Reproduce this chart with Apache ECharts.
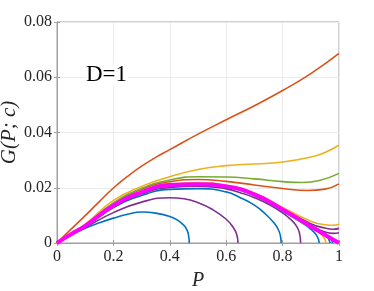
<!DOCTYPE html>
<html>
<head>
<meta charset="utf-8">
<script src="https://cdn.jsdelivr.net/npm/echarts@6/dist/echarts.min.js"></script>
<style>html,body{margin:0;padding:0;background:#fff}#c{width:374px;height:291px}</style>
</head>
<body>
<div id="c"></div>
<script>
// Axis ticks
const xTicks = [0, 0.2, 0.4, 0.6, 0.8, 1];
const yTicks = [0, 0.02, 0.04, 0.06, 0.08];
const annotation = 'D=1';

// Curves (P values and G values)
const pTopOrange = [0, 0.05, 0.1, 0.15, 0.2, 0.25, 0.3, 0.35, 0.4, 0.5, 0.6, 0.7, 0.8, 0.9, 1];
const gTopOrange = [0, 0.0050, 0.0099, 0.0150, 0.0199, 0.0241, 0.0278, 0.0310, 0.0338, 0.0394, 0.0446, 0.0497, 0.0552, 0.0613, 0.0686];

const pYellowTop = [0, 0.05, 0.1, 0.2, 0.3, 0.4, 0.5, 0.6, 0.7, 0.8, 0.9, 0.95, 1];
const gYellowTop = [0, 0.0035, 0.0068, 0.0154, 0.0205, 0.0240, 0.0266, 0.0280, 0.0286, 0.0293, 0.0311, 0.0328, 0.0354];

const pGreen = [0, 0.05, 0.1, 0.2, 0.3, 0.4, 0.5, 0.6, 0.7, 0.8, 0.87, 0.93, 1];
const gGreen = [0, 0.0033, 0.0065, 0.0145, 0.0198, 0.0228, 0.0240, 0.0239, 0.0232, 0.0222, 0.0219, 0.0226, 0.0252];

const pOrangeLow = [0, 0.05, 0.1, 0.2, 0.3, 0.4, 0.5, 0.6, 0.7, 0.8, 0.89, 0.95, 1];
const gOrangeLow = [0, 0.0032, 0.0064, 0.0142, 0.0195, 0.0222, 0.0230, 0.0223, 0.0210, 0.0197, 0.0190, 0.0195, 0.0214];

const pBlueA = [0, 0.05, 0.1, 0.15, 0.2, 0.25, 0.3, 0.35, 0.4, 0.43, 0.45, 0.46, 0.466, 0.469];
const gBlueA = [0, 0.0028, 0.0053, 0.0073, 0.0090, 0.0104, 0.0112, 0.0108, 0.0096, 0.0081, 0.0064, 0.0049, 0.0031, 0];

const pPurpleB = [0, 0.05, 0.1, 0.2, 0.3, 0.4, 0.45, 0.5, 0.55, 0.6, 0.625, 0.637, 0.642];
const gPurpleB = [0, 0.0029, 0.0056, 0.0110, 0.0148, 0.0164, 0.0160, 0.0146, 0.0122, 0.0086, 0.0056, 0.0032, 0];

const pBlueC = [0, 0.05, 0.1, 0.2, 0.3, 0.4, 0.5, 0.6, 0.65, 0.7, 0.74, 0.77, 0.785, 0.792, 0.795];
const gBlueC = [0, 0.0030, 0.0058, 0.0128, 0.0172, 0.0194, 0.0197, 0.0185, 0.0164, 0.0137, 0.0104, 0.0072, 0.0048, 0.0027, 0];

const pPurpleD = [0, 0.05, 0.1, 0.2, 0.3, 0.4, 0.5, 0.6, 0.65, 0.7, 0.75, 0.8, 0.83, 0.85, 0.86, 0.864];
const gPurpleD = [0, 0.0031, 0.0059, 0.0130, 0.0177, 0.0201, 0.0206, 0.0196, 0.0182, 0.0164, 0.0140, 0.0109, 0.0084, 0.0060, 0.0035, 0];

const pBlueE = [0, 0.05, 0.1, 0.2, 0.3, 0.4, 0.5, 0.6, 0.7, 0.8, 0.85, 0.88, 0.9, 0.915, 0.925, 0.93];
const gBlueE = [0, 0.0031, 0.0060, 0.0133, 0.0181, 0.0206, 0.0210, 0.0201, 0.0171, 0.0115, 0.0085, 0.0066, 0.0050, 0.0035, 0.0019, 0];

const pYellowF = [0, 0.1, 0.2, 0.3, 0.4, 0.5, 0.6, 0.7, 0.8, 0.9, 0.93, 0.945, 0.954];
const gYellowF = [0, 0.0061, 0.0134, 0.0182, 0.0208, 0.0212, 0.0203, 0.0172, 0.0117, 0.0056, 0.0038, 0.0022, 0];

const pBlueG = [0, 0.1, 0.2, 0.3, 0.4, 0.5, 0.6, 0.7, 0.8, 0.9, 0.94, 0.96, 0.968];
const gBlueG = [0, 0.0061, 0.0134, 0.0182, 0.0209, 0.0213, 0.0204, 0.0173, 0.0118, 0.0058, 0.0036, 0.0020, 0];

const pBlueH = [0, 0.1, 0.2, 0.3, 0.4, 0.5, 0.6, 0.7, 0.8, 0.9, 0.95, 0.97, 0.977];
const gBlueH = [0, 0.0062, 0.0135, 0.0183, 0.0210, 0.0214, 0.0205, 0.0174, 0.0119, 0.0059, 0.0032, 0.0017, 0];

const pTailDark = [0, 0.1, 0.2, 0.3, 0.4, 0.5, 0.6, 0.7, 0.8, 0.9, 0.95, 0.98, 1];
const gTailDark = [0, 0.0062, 0.0136, 0.0184, 0.0211, 0.0215, 0.0207, 0.0177, 0.0124, 0.0064, 0.0040, 0.0035, 0.0037];

const pTailPurple = [0, 0.1, 0.2, 0.3, 0.4, 0.5, 0.6, 0.7, 0.8, 0.9, 0.95, 0.98, 1];
const gTailPurple = [0, 0.0063, 0.0137, 0.0185, 0.0212, 0.0216, 0.0208, 0.0179, 0.0126, 0.0070, 0.0054, 0.0050, 0.0053];

const pTailYellow = [0, 0.1, 0.2, 0.3, 0.4, 0.5, 0.6, 0.7, 0.8, 0.9, 0.95, 0.98, 1];
const gTailYellow = [0, 0.0064, 0.0138, 0.0186, 0.0213, 0.0217, 0.0209, 0.0181, 0.0129, 0.0079, 0.0066, 0.0064, 0.0068];

const pMagenta = [0, 0.05, 0.1, 0.2, 0.3, 0.4, 0.5, 0.6, 0.7, 0.8, 0.9, 0.95, 1];
const gMagenta = [0, 0.0032, 0.0062, 0.0136, 0.0184, 0.0210, 0.0213, 0.0205, 0.0176, 0.0121, 0.0060, 0.0030, 0];

const curves = [
  {p: pBlueA, g: gBlueA, color: '#0072BD'},
  {p: pPurpleB, g: gPurpleB, color: '#7E2F8E'},
  {p: pBlueC, g: gBlueC, color: '#0072BD'},
  {p: pPurpleD, g: gPurpleD, color: '#7E2F8E'},
  {p: pBlueE, g: gBlueE, color: '#0072BD'},
  {p: pYellowF, g: gYellowF, color: '#EDB120'},
  {p: pBlueG, g: gBlueG, color: '#0072BD'},
  {p: pBlueH, g: gBlueH, color: '#0072BD'},
  {p: pTailDark, g: gTailDark, color: '#7E2F8E'},
  {p: pTailPurple, g: gTailPurple, color: '#7E2F8E'},
  {p: pTailYellow, g: gTailYellow, color: '#EDB120'},
  {p: pOrangeLow, g: gOrangeLow, color: '#D95319'},
  {p: pGreen, g: gGreen, color: '#77AC30'},
  {p: pYellowTop, g: gYellowTop, color: '#EDB120'},
  {p: pTopOrange, g: gTopOrange, color: '#D95319'},
  {p: pMagenta, g: gMagenta, color: '#FF00FF', width: 4}
];

const font = '"Liberation Serif", "DejaVu Serif", serif';
const chart = echarts.init(document.getElementById('c'), null, {renderer: 'canvas'});

const series = curves.map(c => ({
  type: 'line',
  xAxisIndex: 0, yAxisIndex: 0,
  data: c.p.map((p, i) => [p, c.g[i]]),
  showSymbol: false,
  smooth: 0.5,
  lineStyle: {color: c.color, width: c.width || 1.6},
  itemStyle: {color: c.color},
  clip: true,
  animation: false,
  z: c.width ? 5 : 2
}));

const fmt = v => {
  const t = xTicks.concat(yTicks).find(k => Math.abs(k - v) < 1e-9);
  return t === undefined ? '' : String(+t.toFixed(2));
};

chart.setOption({
  animation: false,
  grid: {left: 57, top: 22, width: 282, height: 221, containLabel: false, outerBoundsMode: 'none',
         show: true, borderColor: '#a0a0a0', borderWidth: 1, backgroundColor: '#fff'},
  xAxis: [{
    type: 'value', min: 0, max: 1, interval: 0.2, position: 'bottom',
    axisLine: {show: true, lineStyle: {color: '#a0a0a0', width: 1}},
    axisTick: {show: true, inside: true, length: 3, lineStyle: {color: '#a0a0a0'}},
    splitLine: {show: true, lineStyle: {color: '#ebebeb', width: 1}},
    axisLabel: {color: '#262626', fontFamily: font, fontSize: 16, margin: 6, formatter: fmt},
    name: 'P', nameLocation: 'middle', nameGap: 28, nameMoveOverlap: false,
    nameTextStyle: {color: '#262626', fontFamily: font, fontSize: 20, fontStyle: 'italic'}
  }, {
    type: 'value', min: 0, max: 1, interval: 0.2, position: 'top',
    axisLine: {show: true, lineStyle: {color: '#a0a0a0'}},
    axisTick: {show: true, inside: true, length: 3, lineStyle: {color: '#a0a0a0'}},
    axisLabel: {show: false}, splitLine: {show: false}
  }],
  yAxis: [{
    type: 'value', min: 0, max: 0.08, interval: 0.02, position: 'left',
    axisLine: {show: true, lineStyle: {color: '#a0a0a0', width: 1}},
    axisTick: {show: true, inside: true, length: 3, lineStyle: {color: '#a0a0a0'}},
    splitLine: {show: true, lineStyle: {color: '#ebebeb', width: 1}},
    axisLabel: {color: '#262626', fontFamily: font, fontSize: 16, margin: 5, formatter: fmt},
    name: 'G(P; c)', nameLocation: 'middle', nameGap: 37, nameMoveOverlap: false,
    nameTextStyle: {color: '#262626', fontFamily: font, fontSize: 21, fontStyle: 'italic'}
  }, {
    type: 'value', min: 0, max: 0.08, interval: 0.02, position: 'right',
    axisLine: {show: true, lineStyle: {color: '#a0a0a0'}},
    axisTick: {show: true, inside: true, length: 3, lineStyle: {color: '#a0a0a0'}},
    axisLabel: {show: false}, splitLine: {show: false}
  }],
  graphic: [{
    type: 'text', left: 85, top: 63, z: 10,
    style: {text: annotation, fill: '#000', font: '23px ' + font, backgroundColor: '#fff', padding: [0, 1]}
  }],
  series: series
});
</script>
</body>
</html>
